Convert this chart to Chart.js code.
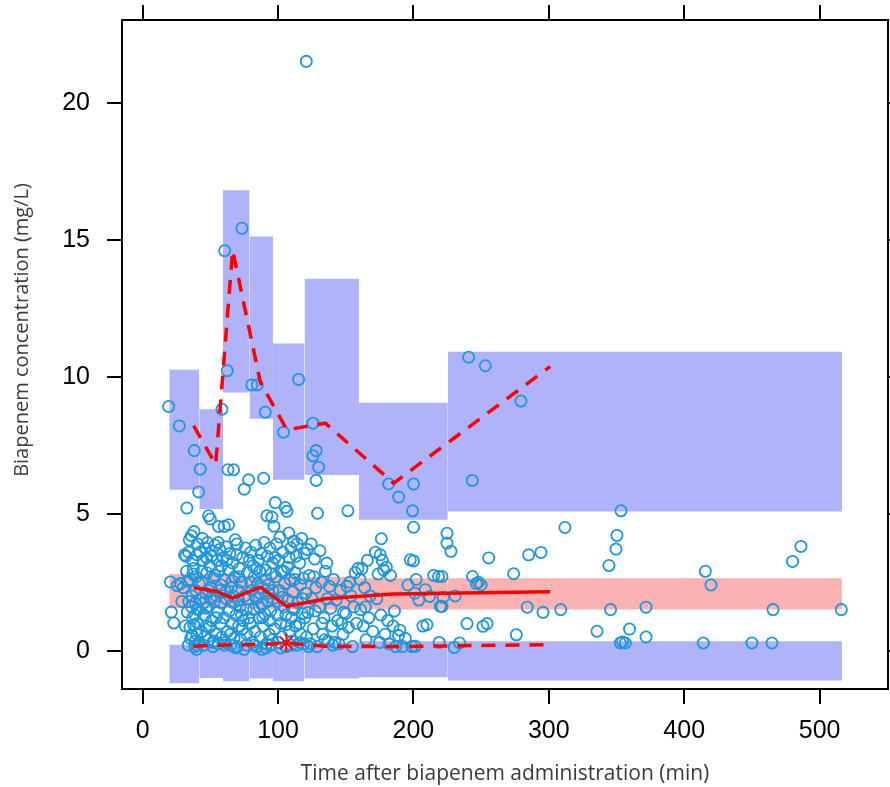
<!DOCTYPE html>
<html>
<head>
<meta charset="utf-8">
<script src="https://cdn.jsdelivr.net/npm/chart.js@4/dist/chart.umd.min.js"></script>
<style>
html,body{margin:0;padding:0;background:#fff;}
#wrap{width:890px;height:787px;position:relative;}
</style>
</head>
<body>
<div id="wrap"><canvas id="c" width="890" height="787"></canvas></div>
<script>
// ---- Data ----
const binEdges = [19.7, 41.9, 59.4, 79.0, 96.3, 119.6, 159.8, 225.4, 516.5];
const upperTop = [10.26, 8.82, 16.82, 15.13, 11.22, 13.59, 9.06, 10.92];
const upperBot = [5.88, 5.18, 9.43, 8.47, 6.24, 6.42, 4.78, 5.08];
const medTop = [2.8, 2.8, 2.75, 2.75, 2.7, 2.7, 2.65, 2.65];
const medBot = [1.55, 1.55, 1.55, 1.5, 1.5, 1.5, 1.5, 1.5];
const lowTop = [0.22, 0.2, 0.2, 0.12, 0.12, 0.3, 0.34, 0.34];
const lowBot = [-1.19, -1.0, -1.12, -1.02, -1.12, -1.02, -0.97, -1.09];

const obsLineTime = [37.7, 54, 66.5, 87, 106.6, 135, 185.4, 301];
const obsUpper = [8.22, 6.8, 14.63, 9.8, 8.07, 8.31, 6.12, 10.38];
const obsMedian = [2.30, 2.17, 1.92, 2.32, 1.62, 1.9, 2.07, 2.15];
const obsLower = [0.16, 0.2, 0.22, 0.22, 0.28, 0.16, 0.15, 0.22];
const markTime = [106.1];
const markConc = [0.28];

const obsBin1 = [[19.2,8.92],[27.1,8.21],[38.2,7.31],[41.4,5.80],[32.7,5.21],
[20.5,2.51],[21.2,1.41],[23,1.01],[25.5,2.38],[28,2.45],[30,2.3],[31,3.5],[32,3.45],[33,1.41],[33.5,2.55],[34,3.6],[35,0.85],[35.5,0.45],[36,4.2],[36.5,2.0],[37,1.2],[37.5,3.0],[38,4.35],[38.5,0.15],[39,1.75],[39.5,2.7],[40,0.6],[40.5,3.9],[41,1.5],[41.5,0.3],[34.5,4.05],[36.8,3.3],[37.8,0.95],[39.2,2.2],[40.8,1.0],[35.2,2.6],[38.8,0.35],[33.8,0.2],[36.2,1.6],[40.2,3.5],[41.8,2.45],[39.8,0.05],
[31.5,0.9],[34.2,1.8],[37.2,2.8],[38.6,1.3],[40.6,0.2],[36.6,0.55],[32.5,2.9],[29,1.8]];
const obsBin2 = [[42.6,6.63],[48.7,4.93],[50,4.81],[56.1,4.54],[58.6,8.82],
[42.5,3.6],[43,1.9],[43.5,0.7],[44,2.5],[44.5,3.3],[45,0.2],[45.5,1.3],[46,3.75],[46.5,2.1],[47,0.9],[47.5,2.85],[48,3.95],[48.5,1.6],[49,0.4],[49.5,3.1],[50.5,2.3],[51,1.1],[51.5,3.65],[52,0.15],[52.5,2.65],[53,1.8],[53.5,3.85],[54,0.6],[54.5,2.0],[55,3.3],[55.5,1.4],[56,0.25],[56.5,2.9],[57,3.7],[57.5,1.0],[58,2.4],[58.5,0.5],[44.2,4.1],[46.8,1.55],[50.8,3.45],[53.2,2.75],[55.8,3.95],[57.8,1.75],[49.2,0.85],[52.8,0.35],
[43.8,2.9],[45.8,0.5],[47.2,3.4],[48.8,2.2],[50.2,1.9],[51.8,0.3],[54.2,1.2],[56.8,2.2],[58.2,3.1],[45.2,1.75]];
const obsBin3 = [[60.6,14.61],[62.5,10.23],[73.4,15.43],[63.0,6.61],[67.2,6.61],[75.1,5.90],[78.3,6.24],[60.3,4.54],[63.5,4.60],
[59.5,3.4],[60,1.2],[60.5,2.6],[61,0.3],[61.5,3.8],[62,1.9],[62.8,0.7],[63.2,2.95],[64,1.45],[64.5,3.55],[65,0.2],[65.5,2.3],[66,1.0],[66.5,3.2],[67,1.75],[67.5,0.45],[68,2.7],[68.4,4.05],[69,1.3],[69.5,3.5],[70,0.15],[70.5,2.2],[71,0.9],[71.5,3.0],[72,1.6],[72.5,0.4],[73,2.5],[74,3.4],[74.5,1.1],[75,0.05],[75.5,2.0],[76,3.75],[76.5,1.5],[77,0.6],[77.5,2.85],[78,1.9],[78.8,3.3],[61.2,2.15],[66.2,2.55],[70.8,1.85],[73.8,0.8],
[60.2,0.2],[62.2,3.3],[64.8,0.6],[66.8,2.0],[68.8,0.1],[71.2,2.7],[73.2,1.3],[76.8,0.2],[78.5,1.2],[69.8,3.9]];
const obsBin4 = [[80.7,9.71],[84.7,9.71],[89.4,6.30],[90.6,8.71],[95.5,4.88],[91.8,4.93],
[79.5,1.0],[80,3.6],[80.5,2.2],[81,0.3],[81.5,3.1],[82,1.5],[82.5,2.7],[83,0.7],[83.5,3.85],[84,1.9],[84.5,0.15],[85,2.45],[85.5,3.3],[86,1.2],[86.5,2.9],[87,0.5],[87.5,3.55],[88,1.7],[88.5,2.3],[89,0.9],[89.8,3.95],[90.2,1.35],[91,2.6],[91.5,0.25],[92,3.45],[92.5,1.8],[93,2.1],[93.5,0.6],[94,3.75],[94.5,1.45],[95,2.8],[95.8,0.4],[96,3.2],[83.2,2.0],[86.2,1.6],[88.2,0.05],[90.8,2.95],[93.8,1.1],
[79.8,2.5],[82.2,0.2],[84.2,3.0],[86.8,2.1],[88.8,1.2],[91.2,0.1],[92.8,2.4],[94.8,0.2],[96.1,2.2]];
const obsBin5 = [[98.0,5.41],[104.1,7.98],[105.4,5.23],[106.6,5.09],[115.2,9.91],[120.9,21.53],
[96.5,1.9],[97,4.55],[97.5,0.8],[98.5,2.7],[99,3.9],[99.5,1.3],[100,0.3],[100.5,3.3],[101,2.2],[101.5,4.15],[102,1.0],[102.5,2.9],[103,0.5],[103.5,3.6],[104.5,1.6],[105,2.45],[106,0.15],[107,3.05],[107.5,1.85],[108,4.3],[108.5,0.7],[109,2.6],[109.5,3.75],[110,1.2],[110.5,0.35],[111,2.15],[111.5,4.0],[112,1.5],[112.5,2.85],[113,0.9],[113.5,3.45],[114,0.2],[114.5,1.75],[116,3.2],[116.5,2.4],[117,0.6],[117.5,4.1],[118,1.35],[118.5,2.65],[119,0.25],[119.5,3.55],[103.2,1.95],[106.2,0.95],[110.8,1.55],[115.8,1.0],
[97.8,3.4],[99.8,1.8],[101.8,0.1],[104.2,2.9],[105.8,1.3],[108.2,3.4],[109.8,0.2],[112.2,2.6],[114.2,3.9],[116.2,0.3],[118.2,1.9],[119.8,1.2]];
const obsBin6 = [[125.8,8.31],[128.2,7.31],[125.8,7.12],[130.0,6.70],[128.2,6.22],[129.2,5.02],[151.6,5.11],
[120.5,2.1],[121,0.5],[121.5,3.7],[122,1.4],[123,2.75],[124,0.25],[124.5,3.9],[125,1.9],[126,0.8],[127,3.35],[128,2.3],[129,0.15],[130.5,1.6],[131,3.65],[132,2.5],[133,0.6],[134,1.2],[135,2.9],[136,3.2],[137,0.35],[138,2.35],[139,1.55],[140,0.9],[141,2.6],[142,0.3],[143,1.85],[144,1.1],[146,2.2],[148,0.6],[148.5,1.4],[150,1.35],[151,2.35],[152,0.85],[153,2.5],[155,0.15],[156,1.6],[157,2.85],[158,1.0],[159,3.0],[127.5,1.45],[134.5,0.4],[145,0.25],
[122.5,0.15],[126.5,2.7],[132.5,1.0],[136.5,1.9],[140.5,0.2],[147,1.0],[154,2.0]];
const obsBin7 = [[181.7,6.09],[189.1,5.61],[200.1,6.09],[199.4,5.11],[200.1,4.51],[176.3,4.09],[200.1,3.28],
[160.5,2.6],[161,1.5],[162,3.0],[163,0.9],[164,2.3],[164.5,1.6],[165,0.4],[166,3.3],[167,1.2],[168,2.0],[170,0.7],[172,3.6],[173,1.9],[174,2.8],[175,0.3],[175.5,3.5],[176,1.3],[177,3.3],[178,2.95],[179,0.6],[180,3.05],[181,1.1],[182,0.25],[183,2.75],[185,0.9],[186,1.45],[187,0.15],[189,0.55],[190,0.75],[192,0.15],[194,0.45],[196,2.4],[197.7,3.32],[199,0.15],[201,2.1],[202,2.6],[204,1.85],[207,0.9],[208.8,2.23],[210,0.95],[212,1.98],[215,2.75],[218.6,2.71],[219.9,1.62],[222,1.95],[224.8,4.29],[224.8,3.93],[221.1,2.71],[221.1,1.62],[219,0.3],[201.4,0.16]];
const obsBin8 = [[240.8,10.72],[253.1,10.41],[279.4,9.12],[243.5,6.22],[353.3,5.11],[311.9,4.50],[350.3,4.21],[349.6,3.71],[344.4,3.11],[486.2,3.81],[480.0,3.26],[415.6,2.90],[419.8,2.40],[465.6,1.50],[516.0,1.50],[371.8,1.59],[345.6,1.50],[308.8,1.50],[295.7,1.40],[284.1,1.59],[274.0,2.81],[285.1,3.50],[294.2,3.59],[255.6,3.39],[243.7,2.71],[246.5,2.45],[248,2.5],[250,2.4],[230.9,2.00],[227.7,3.63],[239.6,0.99],[251.4,0.89],[254.4,0.99],[276.0,0.58],[335.6,0.71],[359.6,0.79],[371.8,0.50],[352.8,0.28],[356.5,0.28],[354.5,0.32],[414.1,0.28],[450.0,0.28],[464.8,0.28],[230.2,0.12],[234.1,0.28]];

// ---- Helpers ----
function pairs(xs, ys) { return xs.map((x, i) => ({x: x, y: ys[i]})); }
const allObs = [].concat(obsBin1, obsBin2, obsBin3, obsBin4, obsBin5, obsBin6, obsBin7, obsBin8).map(p => ({x: p[0], y: p[1]}));

const BLUE_BAND = 'rgb(176,178,250)';
const PINK_BAND = 'rgb(250,178,178)';
const RED = 'rgb(255,0,0)';
const PT = 'rgb(30,150,224)';

function bandRects(tops, bots, color) {
  return tops.map((top, i) => ({
    type: 'line',
    data: [{x: binEdges[i], y: top}, {x: binEdges[i + 1], y: top}],
    borderWidth: 0, pointRadius: 0, borderColor: 'rgba(0,0,0,0)',
    backgroundColor: color,
    fill: {target: {value: bots[i]}},
    order: 5
  }));
}

const datasets = [
  {type: 'line', data: pairs(obsLineTime, obsUpper), borderColor: RED, borderWidth: 3.5, borderDash: [14, 10], pointRadius: 0, fill: false, order: 0, tension: 0},
  {type: 'line', data: pairs(obsLineTime, obsMedian), borderColor: RED, borderWidth: 3.5, pointRadius: 0, fill: false, order: 0, tension: 0},
  {type: 'line', data: pairs(obsLineTime, obsLower), borderColor: RED, borderWidth: 3.5, borderDash: [14, 10], pointRadius: 0, fill: false, order: 0, tension: 0},
  {type: 'scatter', data: pairs(markTime, markConc), pointStyle: 'star', pointRadius: 9, borderColor: RED, borderWidth: 1.5, backgroundColor: RED, order: 0},
  {type: 'scatter', data: allObs, pointStyle: 'circle', pointRadius: 5.6, borderWidth: 1.8, borderColor: PT, backgroundColor: 'rgba(0,0,0,0)', order: 1}
].concat(bandRects(upperTop, upperBot, BLUE_BAND), bandRects(medTop, medBot, PINK_BAND), bandRects(lowTop, lowBot, BLUE_BAND));

const frame = {
  id: 'frame',
  afterDraw(chart) {
    const {ctx, chartArea: a, scales} = chart;
    const x = scales.x, y = scales.y;
    ctx.save();
    ctx.strokeStyle = '#000';
    ctx.lineWidth = 2;
    ctx.strokeRect(a.left, a.top, a.right - a.left, a.bottom - a.top);
    ctx.beginPath();
    x.ticks.forEach(t => { const px = Math.round(x.getPixelForValue(t.value)); ctx.moveTo(px, a.top); ctx.lineTo(px, a.top - 15); });
    y.ticks.forEach(t => { const py = Math.round(y.getPixelForValue(t.value)); ctx.moveTo(a.right, py); ctx.lineTo(a.right + 15, py); });
    ctx.stroke();
    // y axis title
    ctx.fillStyle = '#3a3a3a';
    ctx.font = "20px 'Open Sans', sans-serif";
    ctx.textAlign = 'center';
    ctx.textBaseline = 'middle';
    ctx.translate(22, 330);
    ctx.rotate(-Math.PI / 2);
    ctx.fillText('Biapenem concentration (mg/L)', 0, 0);
    ctx.restore();
  }
};

new Chart(document.getElementById('c'), {
  type: 'scatter',
  data: {datasets: datasets},
  plugins: [frame],
  options: {
    responsive: false,
    animation: false,
    events: [],
    layout: {autoPadding: false, padding: {top: 20, right: 2, left: 0, bottom: 0}},
    plugins: {legend: {display: false}, tooltip: {enabled: false}, title: {display: false}},
    scales: {
      x: {
        type: 'linear', min: -15.2, max: 550.5,
        afterFit(s) { s.height = 98; s.paddingLeft = 0; s.paddingRight = 0; },
        border: {display: false},
        grid: {display: true, drawOnChartArea: false, drawTicks: true, tickLength: 15, color: '#000', lineWidth: 2},
        ticks: {stepSize: 100, includeBounds: false, padding: 12, color: '#000', maxRotation: 0,
          font: {family: "'Liberation Sans', Arial, sans-serif", size: 25}},
        title: {display: true, text: 'Time after biapenem administration (min)', color: '#3a3a3a',
          font: {family: "'Open Sans', sans-serif", size: 21}, padding: {top: 0, bottom: 0}}
      },
      y: {
        type: 'linear', min: -1.40, max: 23.04,
        afterFit(s) { s.width = 122; s.paddingTop = 0; s.paddingBottom = 0; },
        border: {display: false},
        grid: {display: true, drawOnChartArea: false, drawTicks: true, tickLength: 15, color: '#000', lineWidth: 2},
        ticks: {stepSize: 5, includeBounds: false, padding: 17, color: '#000',
          font: {family: "'Liberation Sans', Arial, sans-serif", size: 25}},
        title: {display: false}
      }
    }
  }
});
</script>
</body>
</html>
